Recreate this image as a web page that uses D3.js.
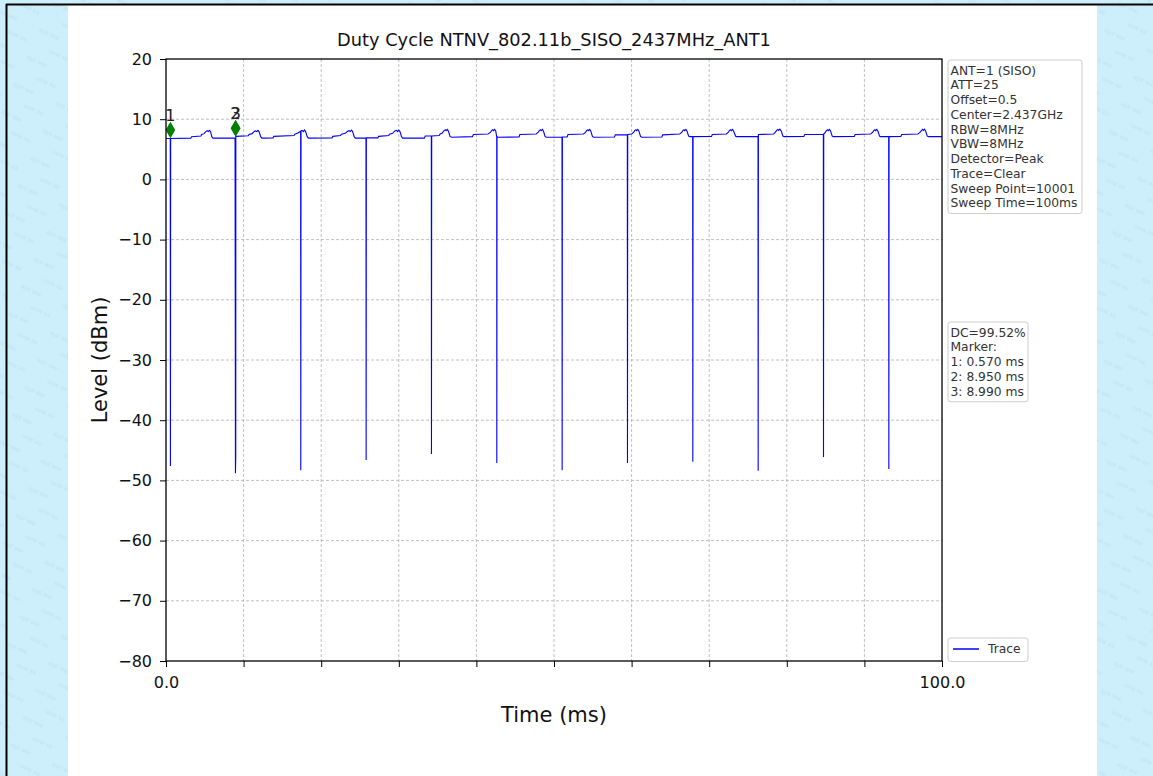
<!DOCTYPE html>
<html><head><meta charset="utf-8">
<script src="https://cdn.jsdelivr.net/npm/d3@7/dist/d3.min.js"></script>
<style>html,body{margin:0;padding:0;background:#fff}svg{display:block}text{font-family:"DejaVu Sans",sans-serif}</style>
</head><body>
<svg id="c" width="1153" height="776"></svg>
<script>
// ---- data ----
const title = "Duty Cycle NTNV_802.11b_SISO_2437MHz_ANT1";
const yTicks = [20, 10, 0, -10, -20, -30, -40, -50, -60, -70, -80];
const xTicks = [0, 10, 20, 30, 40, 50, 60, 70, 80, 90, 100];
const xTickLabels = {0: "0.0", 100: "100.0"};
const infoLines = ["ANT=1 (SISO)", "ATT=25", "Offset=0.5", "Center=2.437GHz", "RBW=8MHz", "VBW=8MHz", "Detector=Peak", "Trace=Clear", "Sweep Point=10001", "Sweep Time=100ms"];
const dcLines = ["DC=99.52%", "Marker:", "1: 0.570 ms", "2: 8.950 ms", "3: 8.990 ms"];
const markers = [{id: "1", t: 0.57, v: 8.2}, {id: "2", t: 8.95, v: 8.5}, {id: "3", t: 8.99, v: 8.5}];
const trace = [
[0.0,6.8],[0.55,6.8],[0.57,-47.6],[0.6,6.8],[3.2,6.85],[3.3,7.1],[4.5,7.2],[4.6,7.45],[4.9,7.6],[5.1,7.9],[5.3,8.1],[5.45,7.95],[5.6,8.15],[5.75,7.9],[5.9,7.1],[6.05,6.85],
[8.9,6.9],[8.95,-48.8],[8.99,-46.0],[9.0,7.15],[10.6,7.25],[10.7,7.45],[11.1,7.6],[11.3,7.9],[11.5,8.05],[11.7,7.95],[11.85,8.15],[12.0,7.9],[12.2,7.1],[12.35,6.85],
[13.8,6.9],[13.9,7.15],[16.5,7.3],[16.6,7.5],[17.0,7.7],[17.35,8.0],[17.37,-48.3],[17.4,8.05],[17.55,8.15],[17.7,7.95],[17.85,8.2],[18.0,7.9],[18.2,7.1],[18.35,6.85],
[21.4,6.9],[21.5,7.15],[22.5,7.3],[22.6,7.5],[23.1,7.65],[23.4,8.0],[23.6,8.1],[23.75,7.95],[23.9,8.2],[24.05,7.95],[24.25,7.1],[24.4,6.85],
[25.77,6.85],[25.79,-46.6],[25.82,6.9],[27.3,6.9],[27.4,7.15],[28.7,7.3],[28.8,7.5],[29.2,7.65],[29.5,8.05],[29.7,8.15],[29.85,7.95],[30.0,8.2],[30.15,7.95],[30.35,7.1],[30.5,6.85],
[33.3,6.85],[33.4,7.2],[34.19,7.2],[34.21,-45.6],[34.24,7.2],[35.2,7.3],[35.3,7.5],[35.6,7.7],[35.8,8.05],[36.0,8.25],[36.1,8.1],[36.25,8.3],[36.4,8.0],[36.6,7.15],[36.8,7.0],
[39.5,7.1],[39.6,7.45],[41.5,7.55],[41.8,7.8],[41.95,8.1],[42.1,8.25],[42.2,8.1],[42.35,8.3],[42.5,8.0],[42.6,7.2],[42.62,7.15],[42.63,-47.1],[42.66,7.1],[42.8,7.0],
[45.5,7.05],[45.6,7.45],[47.7,7.55],[47.95,7.8],[48.1,8.1],[48.25,8.25],[48.35,8.1],[48.5,8.3],[48.65,8.0],[48.85,7.15],[49.0,7.0],
[51.03,7.0],[51.05,-48.3],[51.08,7.05],[51.7,7.05],[51.8,7.45],[53.8,7.55],[54.05,7.8],[54.2,8.1],[54.35,8.25],[54.45,8.1],[54.6,8.3],[54.75,8.0],[54.95,7.15],[55.1,7.0],
[57.8,7.05],[57.9,7.4],[59.45,7.4],[59.47,-47.1],[59.5,7.45],[60.0,7.55],[60.25,7.8],[60.4,8.1],[60.55,8.25],[60.65,8.1],[60.8,8.3],[60.95,8.0],[61.15,7.15],[61.3,7.0],
[63.9,7.05],[64.0,7.4],[66.2,7.55],[66.45,7.8],[66.6,8.1],[66.75,8.25],[66.85,8.1],[67.0,8.3],[67.15,8.0],[67.35,7.2],[67.5,7.1],[67.87,7.1],[67.89,-46.9],[67.92,7.1],
[70.3,7.15],[70.4,7.45],[72.2,7.55],[72.45,7.8],[72.6,8.1],[72.75,8.25],[72.85,8.1],[73.0,8.3],[73.15,8.0],[73.4,7.2],[73.5,7.1],
[76.29,7.1],[76.31,-48.4],[76.34,7.45],[78.3,7.55],[78.5,7.8],[78.7,8.15],[78.85,8.3],[78.95,8.15],[79.1,8.35],[79.3,8.0],[79.5,7.2],[79.65,7.1],
[82.2,7.15],[82.3,7.45],[84.71,7.5],[84.73,-46.1],[84.76,7.55],[84.9,7.7],[85.1,8.1],[85.25,8.25],[85.35,8.1],[85.5,8.3],[85.65,8.0],[85.85,7.2],[86.0,7.1],
[88.7,7.15],[88.8,7.45],[90.8,7.55],[91.05,7.8],[91.2,8.1],[91.35,8.25],[91.45,8.1],[91.6,8.3],[91.75,8.0],[91.95,7.2],[92.1,7.1],
[93.13,7.1],[93.15,-48.1],[93.18,7.1],[94.7,7.15],[94.8,7.45],[96.9,7.55],[97.15,7.8],[97.35,8.1],[97.5,8.3],[97.6,8.15],[97.75,8.35],[97.9,8.0],[98.1,7.2],[98.3,7.1],[100.0,7.1]
];

// ---- drawing ----
const svg = d3.select("#c");
const W = 1153, H = 776;
const plot = {l: 166, t: 59, r: 942, b: 661};

// background with faint pattern
const defs = svg.append("defs");
const pat = defs.append("pattern").attr("id", "bgp").attr("width", 46).attr("height", 30)
  .attr("patternUnits", "userSpaceOnUse").attr("patternTransform", "rotate(25)");
pat.append("rect").attr("width", 46).attr("height", 30).attr("fill", "#cdeefb");
pat.append("text").attr("x", 2).attr("y", 12).attr("font-size", 6).attr("fill", "#bde3f3").text("xyz ww");
pat.append("text").attr("x", 20).attr("y", 27).attr("font-size", 6).attr("fill", "#bde3f3").text("uvw xx");
svg.append("rect").attr("width", W).attr("height", H).attr("fill", "url(#bgp)");
svg.append("rect").attr("x", 68).attr("y", 5).attr("width", 1097 - 68).attr("height", H).attr("fill", "#ffffff");
// outer black frame
svg.append("line").attr("x1", 6).attr("x2", W).attr("y1", 4.5).attr("y2", 4.5).attr("stroke", "#000").attr("stroke-width", 2);
svg.append("line").attr("x1", 6.5).attr("x2", 6.5).attr("y1", 4).attr("y2", H).attr("stroke", "#000").attr("stroke-width", 2);

const x = d3.scaleLinear().domain([0, 100]).range([plot.l, plot.r]);
const y = d3.scaleLinear().domain([-80, 20]).range([plot.b, plot.t]);

// grid
const grid = svg.append("g");
grid.selectAll("line.gx").data(xTicks.slice(1, -1)).join("line")
  .attr("x1", d => x(d)).attr("x2", d => x(d)).attr("y1", plot.t).attr("y2", plot.b)
  .attr("stroke", "#b0b0b0").attr("stroke-width", 0.8).attr("stroke-dasharray", "3,2");
grid.selectAll("line.gy").data(yTicks.slice(1, -1)).join("line")
  .attr("y1", d => y(d)).attr("y2", d => y(d)).attr("x1", plot.l).attr("x2", plot.r)
  .attr("stroke", "#b0b0b0").attr("stroke-width", 0.8).attr("stroke-dasharray", "3,2");

// clip
defs.append("clipPath").attr("id", "clip").append("rect")
  .attr("x", plot.l).attr("y", plot.t).attr("width", plot.r - plot.l).attr("height", plot.b - plot.t);

// trace
const line = d3.line().x(d => x(d[0])).y(d => y(d[1]));
svg.append("path").datum(trace).attr("d", line).attr("fill", "none")
  .attr("stroke", "#0000ff").attr("stroke-width", 1.1).attr("clip-path", "url(#clip)");

// markers
svg.selectAll("path.mk").data(markers).join("path")
  .attr("d", d3.symbol().type(d3.symbolDiamond).size(80))
  .attr("transform", d => `translate(${x(d.t)},${y(d.v)})`)
  .attr("fill", "#008000");
svg.selectAll("text.mkl").data(markers).join("text")
  .attr("x", d => x(d.t)).attr("y", d => y(d.v) - 9)
  .attr("text-anchor", "middle").attr("font-size", 16).attr("fill", "#222").text(d => d.id);

// axes
const yAxis = d3.axisLeft(y).tickValues(yTicks).tickSize(6).tickPadding(8)
  .tickFormat(d => d < 0 ? "\u2212" + Math.abs(d) : String(d));
const gy = svg.append("g").attr("transform", `translate(${plot.l},0)`).call(yAxis);
const xAxis = d3.axisBottom(x).tickValues(xTicks).tickSize(6).tickPadding(10)
  .tickFormat(d => xTickLabels[d] || "");
const gx = svg.append("g").attr("transform", `translate(0,${plot.b})`).call(xAxis);
[gx, gy].forEach(g => {
  g.select(".domain").remove();
  g.selectAll(".tick line").attr("stroke", "#000").attr("stroke-width", 1);
  g.selectAll(".tick text").attr("font-size", 16).attr("fill", "#111").attr("font-family", "DejaVu Sans");
});
svg.append("rect").attr("x", plot.l).attr("y", plot.t).attr("width", plot.r - plot.l).attr("height", plot.b - plot.t)
  .attr("fill", "none").attr("stroke", "#000").attr("stroke-width", 1.3);

// titles
svg.append("text").attr("x", (plot.l + plot.r) / 2).attr("y", 46).attr("text-anchor", "middle")
  .attr("font-size", 17.8).attr("fill", "#111").text(title);
svg.append("text").attr("x", (plot.l + plot.r) / 2).attr("y", 722).attr("text-anchor", "middle")
  .attr("font-size", 21).attr("fill", "#111").text("Time (ms)");
svg.append("text").attr("transform", `translate(107,${(plot.t + plot.b) / 2}) rotate(-90)`).attr("text-anchor", "middle")
  .attr("font-size", 21).attr("fill", "#111").text("Level (dBm)");

// info boxes
function box(lines, x0, y0, w, lh) {
  const h = lines.length * lh + 6;
  svg.append("rect").attr("x", x0).attr("y", y0).attr("width", w).attr("height", h).attr("rx", 2.5)
    .attr("fill", "#fff").attr("stroke", "#cccccc").attr("stroke-width", 1);
  svg.selectAll(null).data(lines).join("text")
    .attr("x", x0 + 2.5).attr("y", (d, i) => y0 + 3 + lh * i + lh / 2).attr("dy", "0.35em")
    .attr("font-size", 12.3).attr("fill", "#333").text(d => d);
}
box(infoLines, 948, 60, 134, 14.75);
box(dcLines, 948, 322, 80, 14.75);

// legend
svg.append("rect").attr("x", 948).attr("y", 638).attr("width", 80).attr("height", 23.5).attr("rx", 2.5)
  .attr("fill", "#fff").attr("stroke", "#cccccc");
svg.append("line").attr("x1", 953).attr("x2", 979).attr("y1", 649).attr("y2", 649).attr("stroke", "#0000ff").attr("stroke-width", 1.5);
svg.append("text").attr("x", 988).attr("y", 649).attr("dy", "0.35em").attr("font-size", 12.3).attr("fill", "#333").text("Trace");
</script>
</body></html>
